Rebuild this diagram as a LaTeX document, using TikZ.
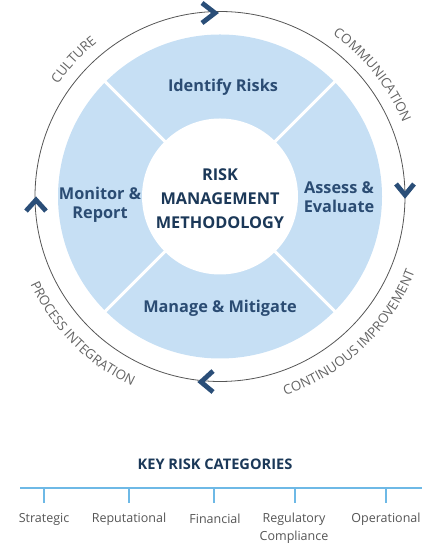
\documentclass[tikz,border=0pt]{standalone}
\usepackage{fontspec}
\setmainfont{Open Sans}
\usetikzlibrary{decorations.text}
\definecolor{segblue}{RGB}{198,223,244}
\definecolor{segtxt}{RGB}{43,76,115}
\definecolor{ctrtxt}{RGB}{27,56,88}
\definecolor{chev}{RGB}{42,78,120}
\definecolor{ringline}{RGB}{85,85,85}
\definecolor{ringtxt}{RGB}{100,100,100}
\definecolor{catblue}{RGB}{110,185,230}
\definecolor{cattxt}{RGB}{85,85,85}
\tikzset{
  segtext/.style={text=segtxt, font=\fontsize{16.3}{19}\selectfont\bfseries, align=center, inner sep=0pt},
  ctrtext/.style={text=ctrtxt, font=\fontsize{16.3}{24}\selectfont\bfseries, align=center, inner sep=0pt},
  chevron/.style={draw=chev, line width=4.8pt, line cap=butt, line join=miter},
  catline/.style={draw=catblue, line width=1.2pt},
  cattext/.style={text=cattxt, font=\fontsize{12.5}{18}\selectfont, align=center, inner sep=0pt},
  ringlabel/.style={decorate, decoration={text along path, text align=center,
     text={|\fontsize{13.3}{13}\selectfont\color{ringtxt}|#1}}}
}
\begin{document}
\begin{tikzpicture}[x=1pt,y=1pt]
\useasboundingbox (0,0) rectangle (438,545);
\coordinate (C) at (220,348.5);
% blue disk and dividers
\fill[segblue] (C) circle[radius=162];
\foreach \a in {45,135,225,315} \draw[white, line width=3pt] (C) -- ++(\a:165);
\fill[white] (C) circle[radius=78];
% outer ring
\draw[ringline, line width=0.8pt] (C) circle[radius=185];
% chevrons
\coordinate (ta) at (202,542); \coordinate (tb) at (215,532); \coordinate (tc) at (202,522);
\draw[chevron] (ta) -- (tb) -- (tc);
\coordinate (ra) at (396,361); \coordinate (rb) at (405,350); \coordinate (rc) at (414,361);
\draw[chevron] (ra) -- (rb) -- (rc);
\coordinate (la) at (26,334); \coordinate (lb) at (36,345); \coordinate (lc) at (46,334);
\draw[chevron] (la) -- (lb) -- (lc);
\coordinate (ba) at (213,174); \coordinate (bb) at (201,163); \coordinate (bc) at (213,153);
\draw[chevron] (ba) -- (bb) -- (bc);
% ring labels
\path[ringlabel=CULTURE] (C) ++(177:197) arc[start angle=177, end angle=97, radius=197];
\path[ringlabel=COMMUNICATION] (C) ++(78.5:197) arc[start angle=78.5, end angle=-1.5, radius=197];
\path[ringlabel=CONTINUOUS IMPROVEMENT] (C) ++(-86.5:209) arc[start angle=-86.5, end angle=-6.5, radius=209];
\path[ringlabel=PROCESS INTEGRATION] (C) ++(185:209) arc[start angle=185, end angle=265, radius=209];
% segment texts
\node[segtext] (identify) at (223,458) {Identify Risks};
\node[segtext] (monitor) at (100,340) {Monitor \&\\Report};
\node[segtext] (assess) at (339,348) {Assess \&\\Evaluate};
\node[segtext] (manage) at (220,237) {Manage \& Mitigate};
\node[ctrtext] (center) at (220,346) {RISK\\MANAGEMENT\\METHODOLOGY};
% key risk categories
\node[text=ctrtxt, font=\fontsize{14.6}{14}\selectfont\bfseries, inner sep=0pt] (title) at (215,81) {KEY RISK CATEGORIES};
\coordinate (lineL) at (20,57); \coordinate (lineR) at (422,57);
\draw[catline] (lineL) -- (lineR);
\foreach \x/\n in {44/s,129/r,214/f,295/g,386/o} {
  \coordinate (t\n) at (\x,57);
  \coordinate (e\n) at (\x,42);
  \draw[catline] (t\n) -- (e\n);
}
\node[cattext] (strategic) at (44,26) {Strategic};
\node[cattext] (reputational) at (129,26) {Reputational};
\node[cattext] (financial) at (215,26) {Financial};
\node[cattext] (regulatory) at (294,17) {Regulatory\\Compliance};
\node[cattext] (operational) at (386,26) {Operational};
\end{tikzpicture}
\end{document}
